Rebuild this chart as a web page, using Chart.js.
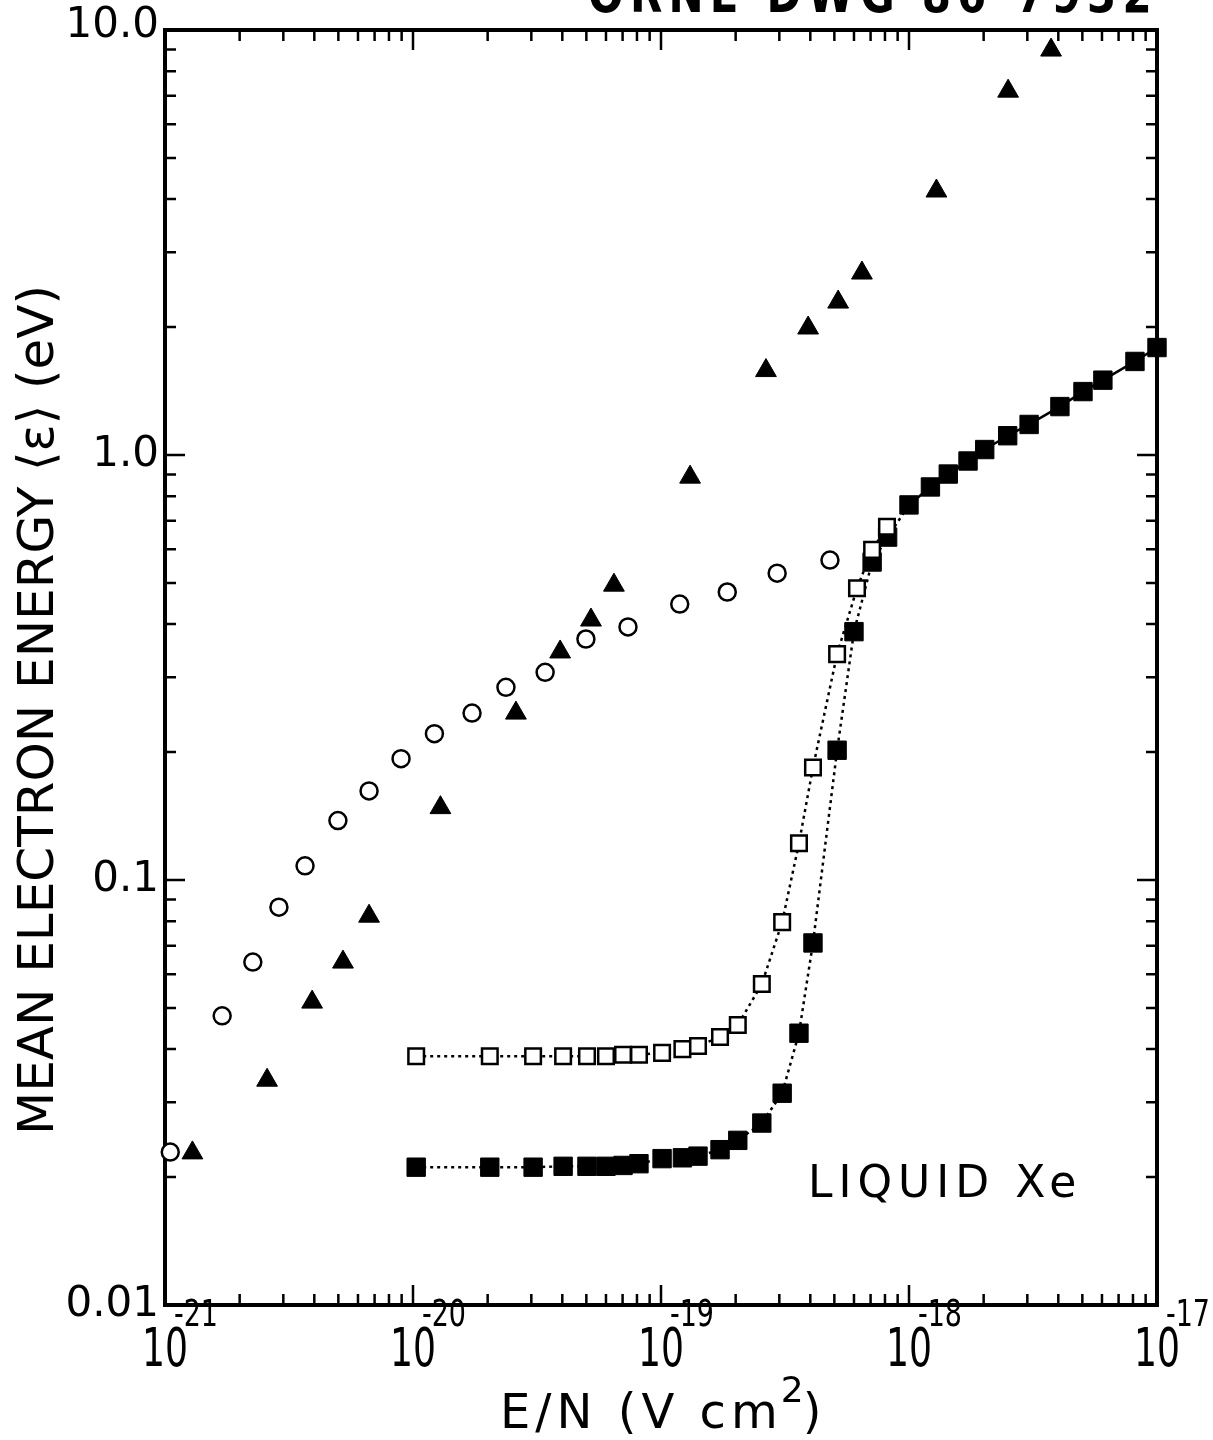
<!DOCTYPE html>
<html>
<head>
<meta charset="utf-8">
<script src="https://cdn.jsdelivr.net/npm/chart.js@4.4.0/dist/chart.umd.min.js"></script>
<style>
  html, body { margin: 0; padding: 0; background: #fff; }
  #wrap { width: 1213px; height: 1440px; }
</style>
</head>
<body>
<div id="wrap"><canvas id="chart" width="1213" height="1440"></canvas></div>
<script>
// axis ranges and tick labels
const xMin = 1e-21, xMax = 1e-17;
const yMin = 0.01, yMax = 10;
const xDecades = [1e-21, 1e-20, 1e-19, 1e-18, 1e-17];
const xExponents = ["-21", "-20", "-19", "-18", "-17"];
const yDecades = [0.01, 0.1, 1, 10];
const yTickLabels = ["0.01", "0.1", "1.0", "10.0"];
const minorSteps = [2, 3, 4, 5, 6, 7, 8, 9];

// open circles
const circleX = [1.05e-21, 1.70e-21, 2.26e-21, 2.88e-21, 3.67e-21, 4.98e-21, 6.65e-21, 8.95e-21, 1.22e-20,
  1.73e-20, 2.37e-20, 3.41e-20, 4.98e-20, 7.36e-20, 1.19e-19, 1.85e-19, 2.94e-19, 4.80e-19];
const circleY = [0.0229, 0.0479, 0.0641, 0.0863, 0.108, 0.138, 0.162, 0.193, 0.221,
  0.247, 0.284, 0.308, 0.369, 0.394, 0.446, 0.476, 0.527, 0.566];

// filled triangles
const triangleX = [1.29e-21, 2.58e-21, 3.92e-21, 5.22e-21, 6.65e-21, 1.29e-20, 2.60e-20, 3.92e-20, 5.22e-20,
  6.46e-20, 1.31e-19, 2.65e-19, 3.92e-19, 5.18e-19, 6.46e-19, 1.29e-18, 2.51e-18, 3.74e-18];
const triangleY = [0.0228, 0.0338, 0.0516, 0.0641, 0.0822, 0.148, 0.247, 0.344, 0.409,
  0.494, 0.887, 1.58, 1.99, 2.29, 2.68, 4.18, 7.18, 8.97];

// open squares (dotted line)
const openSqX = [1.03e-20, 2.04e-20, 3.05e-20, 4.03e-20, 5.03e-20, 6.0e-20, 7.03e-20, 8.15e-20, 1.01e-19,
  1.22e-19, 1.41e-19, 1.73e-19, 2.04e-19, 2.55e-19, 3.08e-19, 3.6e-19, 4.1e-19, 5.13e-19, 6.17e-19, 7.1e-19, 8.15e-19];
const openSqY = [0.0385, 0.0385, 0.0385, 0.0385, 0.0385, 0.0385, 0.0388, 0.0388, 0.0392,
  0.0400, 0.0407, 0.0427, 0.0456, 0.0569, 0.0796, 0.122, 0.184, 0.340, 0.486, 0.598, 0.678];

// filled squares (dotted, then solid line)
const filledSqX = [1.03e-20, 2.04e-20, 3.05e-20, 4.03e-20, 5.03e-20, 6.0e-20, 7.03e-20, 8.15e-20, 1.01e-19,
  1.22e-19, 1.41e-19, 1.73e-19, 2.04e-19, 2.55e-19, 3.08e-19, 3.6e-19, 4.1e-19, 5.13e-19, 6.0e-19, 7.1e-19, 8.2e-19,
  1.0e-18, 1.22e-18, 1.44e-18, 1.73e-18, 2.02e-18, 2.5e-18, 3.05e-18, 4.06e-18, 5.03e-18, 6.05e-18, 8.15e-18, 1.0e-17];
const filledSqY = [0.0211, 0.0211, 0.0211, 0.0212, 0.0212, 0.0212, 0.0213, 0.0215, 0.0221,
  0.0222, 0.0224, 0.0232, 0.0244, 0.0268, 0.0315, 0.0436, 0.0711, 0.202, 0.384, 0.560, 0.641,
  0.763, 0.841, 0.902, 0.968, 1.03, 1.11, 1.18, 1.30, 1.41, 1.50, 1.66, 1.79];

const FONT = '"DejaVu Sans", "Liberation Sans", sans-serif';

const toPoints = (xs, ys) => xs.map((x, i) => ({ x: x, y: ys[i] }));

// frame with inward ticks on all four sides
const framePlugin = {
  id: "frame",
  beforeDatasetsDraw(chart) {
    const { ctx, chartArea: a, scales } = chart;
    const xs = scales.x, ys = scales.y;
    const majorLen = 20, minorLen = 11;
    ctx.save();
    ctx.strokeStyle = "#000";
    ctx.lineCap = "butt";

    const xTick = (v, len) => {
      const px = xs.getPixelForValue(v);
      ctx.beginPath();
      ctx.moveTo(px, a.bottom); ctx.lineTo(px, a.bottom - len);
      ctx.moveTo(px, a.top); ctx.lineTo(px, a.top + len);
      ctx.stroke();
    };
    const yTick = (v, len) => {
      const py = ys.getPixelForValue(v);
      ctx.beginPath();
      ctx.moveTo(a.left, py); ctx.lineTo(a.left + len, py);
      ctx.moveTo(a.right, py); ctx.lineTo(a.right - len, py);
      ctx.stroke();
    };

    ctx.lineWidth = 2.5;
    xDecades.forEach((d, i) => {
      xTick(d, majorLen);
      if (i < xDecades.length - 1) minorSteps.forEach(m => xTick(d * m, minorLen));
    });
    yDecades.forEach((d, i) => {
      yTick(d, majorLen);
      if (i < yDecades.length - 1) minorSteps.forEach(m => yTick(d * m, minorLen));
    });

    ctx.lineWidth = 4;
    ctx.strokeRect(a.left, a.top, a.right - a.left, a.bottom - a.top);
    ctx.restore();
  },
  afterDraw(chart) {
    const { ctx, chartArea: a, scales } = chart;
    const xs = scales.x, ys = scales.y;
    ctx.save();
    ctx.fillStyle = "#000";

    // y tick labels
    ctx.font = "42px " + FONT;
    ctx.textAlign = "right";
    ctx.textBaseline = "middle";
    yDecades.forEach((v, i) => {
      let py = ys.getPixelForValue(v);
      if (i === yDecades.length - 1) py -= 4;
      ctx.fillText(yTickLabels[i], a.left - 6, py);
    });

    // x tick labels 10^n
    xDecades.forEach((v, i) => {
      const px = xs.getPixelForValue(v);
      ctx.font = "54px " + FONT;
      ctx.textAlign = "center";
      ctx.textBaseline = "alphabetic";
      ctx.fillText("10", px, 1366, 46);
      ctx.font = "38px " + FONT;
      ctx.textAlign = "left";
      ctx.fillText(xExponents[i], px + 9, 1326, 44);
    });

    // x axis title
    ctx.font = "48px " + FONT;
    ctx.textAlign = "left";
    ctx.textBaseline = "alphabetic";
    ctx.letterSpacing = "5px";
    const main = "E/N (V cm";
    const mainW = ctx.measureText(main).width;
    const startX = 500;
    ctx.fillText(main, startX, 1428, 300);
    const w1 = Math.min(mainW, 300);
    ctx.font = "36px " + FONT;
    ctx.fillText("2", startX + w1 - 2, 1402);
    ctx.font = "48px " + FONT;
    ctx.fillText(")", startX + w1 + 20, 1428);
    ctx.letterSpacing = "0px";

    // y axis title
    ctx.save();
    ctx.translate(40, 710);
    ctx.rotate(-Math.PI / 2);
    ctx.font = "50px " + FONT;
    ctx.textAlign = "center";
    ctx.textBaseline = "middle";
    ctx.fillText("MEAN ELECTRON ENERGY \u27E8\u03B5\u27E9 (eV)", 0, 0, 850);
    ctx.restore();

    // annotation
    ctx.font = "44px " + FONT;
    ctx.textAlign = "left";
    ctx.textBaseline = "middle";
    ctx.letterSpacing = "6px";
    ctx.fillText("LIQUID Xe", 808, 1186, 285);
    ctx.letterSpacing = "0px";

    // drawing number at the top edge (cut off in the original)
    ctx.font = "bold 54px " + FONT;
    ctx.textBaseline = "alphabetic";
    ctx.letterSpacing = "8px";
    ctx.fillText("ORNL-DWG 86-7932", 588, 12, 570);
    ctx.restore();
  }
};

const ctx = document.getElementById("chart").getContext("2d");

new Chart(ctx, {
  type: "scatter",
  data: {
    datasets: [
      {
        label: "open squares",
        data: toPoints(openSqX, openSqY),
        showLine: true,
        borderColor: "#000",
        borderWidth: 2.5,
        borderDash: [3, 4],
        pointStyle: "rect",
        pointRadius: 11,
        pointBorderWidth: 2.5,
        pointBackgroundColor: "#fff",
        pointBorderColor: "#000",
        clip: false,
        order: 0
      },
      {
        label: "filled squares",
        data: toPoints(filledSqX, filledSqY),
        showLine: true,
        borderColor: "#000",
        borderWidth: 2.5,
        segment: {
          borderDash: c => (c.p0.parsed.x >= 9e-19 ? [] : [3, 4])
        },
        pointStyle: "rect",
        pointRadius: 13,
        pointBorderWidth: 1,
        pointBackgroundColor: "#000",
        pointBorderColor: "#000",
        clip: false,
        order: 1
      },
      {
        label: "triangles",
        data: toPoints(triangleX, triangleY),
        showLine: false,
        pointStyle: "triangle",
        pointRadius: 12,
        pointBorderWidth: 1,
        pointBackgroundColor: "#000",
        pointBorderColor: "#000",
        clip: false,
        order: 2
      },
      {
        label: "circles",
        data: toPoints(circleX, circleY),
        showLine: false,
        pointStyle: "circle",
        pointRadius: 8.5,
        pointBorderWidth: 2.5,
        pointBackgroundColor: "#fff",
        pointBorderColor: "#000",
        clip: false,
        order: 3
      }
    ]
  },
  options: {
    responsive: false,
    animation: false,
    devicePixelRatio: 1,
    layout: {
      padding: { left: 165, right: 56, top: 30, bottom: 135 }
    },
    scales: {
      x: { type: "logarithmic", min: xMin, max: xMax, display: false },
      y: { type: "logarithmic", min: yMin, max: yMax, display: false }
    },
    plugins: {
      legend: { display: false },
      tooltip: { enabled: false }
    }
  },
  plugins: [framePlugin]
});
</script>
</body>
</html>
